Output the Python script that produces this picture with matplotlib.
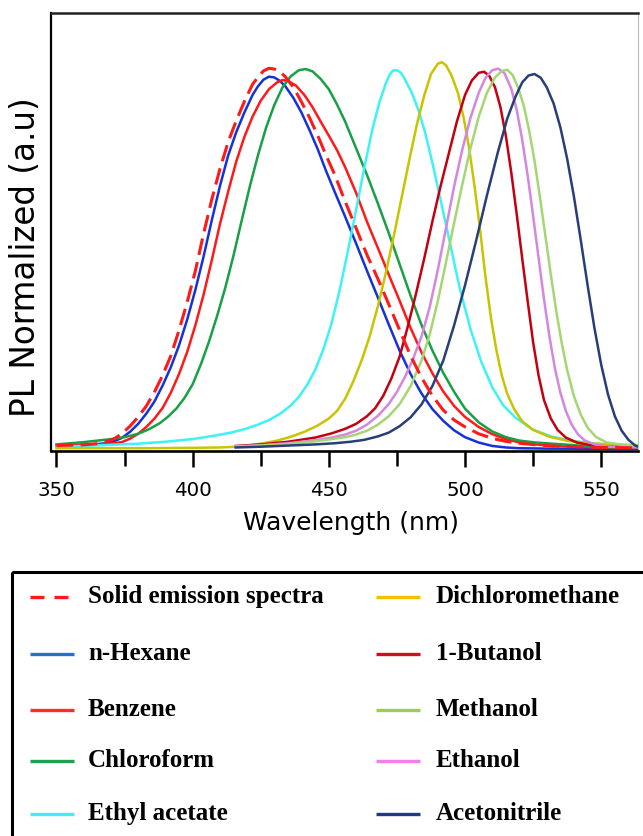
import matplotlib
matplotlib.use("Agg")
import matplotlib.pyplot as plt
from matplotlib.patches import Rectangle

# ---------------- data ----------------
solid_x = [350, 355, 360, 365, 368, 371, 374, 377, 380, 383, 386, 389, 392, 395, 398, 401, 404,
           407, 410, 413, 416, 419, 422, 424, 426, 428, 430, 432, 434, 437, 440, 443, 446, 449,
           452, 456, 460, 464, 468, 472, 476, 480, 484, 488, 492, 496, 500, 505, 510, 515, 520,
           526, 532, 540, 550, 564]
solid_y = [0.009, 0.010, 0.011, 0.014, 0.018, 0.026, 0.040, 0.060, 0.084, 0.113, 0.150, 0.194,
           0.245, 0.312, 0.386, 0.468, 0.565, 0.655, 0.735, 0.806, 0.862, 0.913, 0.958, 0.977,
           0.993, 1.000, 0.998, 0.991, 0.978, 0.950, 0.911, 0.869, 0.822, 0.771, 0.723, 0.650,
           0.580, 0.510, 0.447, 0.380, 0.312, 0.245, 0.188, 0.140, 0.102, 0.076, 0.058, 0.040,
           0.028, 0.020, 0.015, 0.011, 0.008, 0.006, 0.004, 0.003]

hexane_x = [350, 355, 360, 365, 368, 371, 374, 377, 380, 383, 386, 389, 392, 395, 398, 401, 404,
            407, 410, 413, 416, 419, 422, 424, 426, 428, 430, 432, 434, 437, 440, 443, 446, 449,
            452, 456, 460, 464, 468, 472, 476, 480, 484, 488, 492, 496, 500, 505, 510, 515, 520,
            530, 564]
hexane_y = [0.009, 0.010, 0.011, 0.013, 0.015, 0.020, 0.029, 0.045, 0.066, 0.093, 0.125, 0.167,
            0.215, 0.272, 0.340, 0.418, 0.505, 0.600, 0.690, 0.770, 0.832, 0.884, 0.930, 0.953,
            0.970, 0.978, 0.976, 0.967, 0.953, 0.922, 0.883, 0.836, 0.786, 0.730, 0.678, 0.610,
            0.540, 0.468, 0.398, 0.327, 0.258, 0.197, 0.146, 0.105, 0.074, 0.049, 0.031, 0.017,
            0.008, 0.004, 0.002, 0.001, 0.000]

benzene_x = [350, 355, 360, 365, 370, 374, 377, 380, 383, 386, 389, 392, 395, 398, 401, 404, 407,
             410, 413, 416, 419, 422, 425, 428, 431, 433, 435, 438, 441, 444, 447, 450, 453, 456,
             460, 464, 468, 472, 476, 480, 484, 488, 492, 496, 500, 505, 510, 515, 520, 526, 532,
             540, 550, 564]
benzene_y = [0.009, 0.010, 0.011, 0.012, 0.014, 0.018, 0.027, 0.040, 0.058, 0.080, 0.108, 0.148,
             0.197, 0.255, 0.325, 0.405, 0.495, 0.590, 0.675, 0.755, 0.820, 0.873, 0.915, 0.945,
             0.963, 0.969, 0.967, 0.954, 0.930, 0.898, 0.860, 0.823, 0.785, 0.740, 0.673, 0.597,
             0.528, 0.458, 0.389, 0.318, 0.254, 0.199, 0.151, 0.113, 0.084, 0.058, 0.039, 0.026,
             0.017, 0.012, 0.009, 0.006, 0.004, 0.003]

chloroform_x = [350, 355, 360, 365, 370, 375, 380, 384, 388, 391, 394, 397, 400, 403, 406, 409,
                412, 415, 418, 421, 424, 427, 430, 433, 436, 439, 441.5, 444, 447, 450, 453, 456,
                460, 464, 468, 472, 476, 480, 484, 488, 492, 496, 500, 505, 510, 515, 520, 526,
                532, 540, 548, 556, 564]
chloroform_y = [0.012, 0.015, 0.018, 0.022, 0.026, 0.031, 0.040, 0.052, 0.068, 0.085, 0.106,
                0.134, 0.170, 0.222, 0.282, 0.350, 0.424, 0.508, 0.600, 0.690, 0.772, 0.845,
                0.904, 0.950, 0.979, 0.995, 0.998, 0.992, 0.972, 0.945, 0.905, 0.860, 0.790,
                0.720, 0.645, 0.567, 0.485, 0.403, 0.326, 0.259, 0.200, 0.150, 0.106, 0.070,
                0.046, 0.031, 0.022, 0.017, 0.014, 0.010, 0.006, 0.004, 0.003]

ethyl_x = [350, 360, 370, 380, 390, 400, 408, 414, 419, 424, 428, 432, 436, 439, 442, 445, 448,
           451, 454, 457, 460, 463, 466, 468.5, 471, 472.3, 473.5, 475, 476.5, 478, 480.5, 483,
           485.5, 488, 491, 494.5, 498, 502, 506, 510, 514, 518.4, 524.6, 531.6, 538.8, 546,
           553, 564]
ethyl_y = [0.006, 0.008, 0.011, 0.014, 0.019, 0.026, 0.035, 0.043, 0.052, 0.064, 0.076, 0.092,
           0.114, 0.137, 0.168, 0.208, 0.262, 0.330, 0.418, 0.520, 0.628, 0.738, 0.840, 0.909,
           0.962, 0.983, 0.994, 0.995, 0.988, 0.970, 0.935, 0.888, 0.827, 0.752, 0.655, 0.540,
           0.424, 0.315, 0.228, 0.162, 0.115, 0.083, 0.052, 0.033, 0.022, 0.015, 0.011, 0.007]

dcm_x = [350, 380, 400, 410, 416, 421, 426, 431, 436, 441, 446, 450, 453, 456, 459, 462, 465,
         468, 471, 474, 477, 480, 482.5, 485, 487.5, 490, 491.5, 493, 495, 497.4, 499.5, 501.5,
         503.5, 505.5, 507.5, 509.5, 511.5, 513.5, 515.5, 518, 521, 525, 531, 538, 546, 553, 564]
dcm_y = [0.002, 0.002, 0.003, 0.004, 0.006, 0.010, 0.015, 0.022, 0.032, 0.045, 0.062, 0.080,
         0.100, 0.132, 0.178, 0.232, 0.296, 0.375, 0.465, 0.565, 0.670, 0.775, 0.858, 0.928,
         0.985, 1.012, 1.016, 1.008, 0.982, 0.935, 0.870, 0.790, 0.690, 0.578, 0.452, 0.345,
         0.260, 0.193, 0.145, 0.105, 0.073, 0.050, 0.032, 0.021, 0.015, 0.012, 0.010]

butanol_x = [415.8, 425, 435, 445, 451, 456, 460, 464, 467, 470, 473, 476, 479, 482, 485, 488,
             491, 494, 497, 500, 502.5, 505, 507, 509, 511, 513, 515, 517, 519, 521, 523, 525,
             527, 529, 531.5, 534, 537, 541, 546, 553, 564]
butanol_y = [0.008, 0.012, 0.019, 0.030, 0.041, 0.053, 0.066, 0.086, 0.107, 0.140, 0.186, 0.243,
             0.322, 0.408, 0.500, 0.597, 0.690, 0.775, 0.860, 0.930, 0.968, 0.988, 0.991, 0.979,
             0.950, 0.898, 0.822, 0.725, 0.615, 0.500, 0.388, 0.280, 0.193, 0.128, 0.080, 0.050,
             0.030, 0.017, 0.010, 0.006, 0.004]

methanol_x = [415.8, 425, 435, 445, 451, 456, 460, 464, 468, 472, 476, 480, 484, 487, 490, 493,
              496, 499, 502, 505, 508, 511, 513.5, 515.5, 517.5, 519.6, 521.5, 523.5, 525.5,
              527.5, 529.5, 531.5, 533.5, 535.5, 537.5, 540, 542.5, 545, 548, 552, 558, 564]
methanol_y = [0.006, 0.009, 0.013, 0.020, 0.026, 0.031, 0.038, 0.048, 0.064, 0.086, 0.118, 0.165,
              0.232, 0.300, 0.388, 0.490, 0.594, 0.695, 0.790, 0.872, 0.935, 0.976, 0.993, 0.996,
              0.982, 0.947, 0.903, 0.838, 0.757, 0.662, 0.560, 0.458, 0.362, 0.278, 0.207, 0.138,
              0.090, 0.056, 0.032, 0.017, 0.011, 0.009]

ethanol_x = [415.8, 425, 435, 445, 451, 456, 460, 464, 468, 472, 475, 478, 481, 484, 487, 490,
             493, 496, 499, 502, 505, 507.5, 510, 512.2, 514.5, 517, 519, 521, 523, 525, 527,
             529, 531, 533, 535, 537, 539, 541.5, 544, 548, 553, 564]
ethanol_y = [0.007, 0.010, 0.015, 0.023, 0.030, 0.038, 0.048, 0.064, 0.087, 0.118, 0.150, 0.190,
             0.238, 0.295, 0.372, 0.470, 0.580, 0.690, 0.787, 0.870, 0.935, 0.975, 0.995, 0.999,
             0.987, 0.946, 0.890, 0.812, 0.718, 0.612, 0.502, 0.393, 0.295, 0.212, 0.148, 0.100,
             0.066, 0.038, 0.022, 0.011, 0.006, 0.004]

acetonitrile_x = [415.8, 425, 435, 445, 452, 458, 463, 468, 472, 476, 480, 484, 488, 492, 496,
                  500, 504, 508, 512, 515.5, 518.5, 521, 523.3, 525.5, 527.8, 530, 532.5, 535,
                  537.5, 540, 542.5, 545, 547.5, 550, 552.5, 555, 557.5, 560, 562.5, 564]
acetonitrile_y = [0.004, 0.006, 0.009, 0.012, 0.015, 0.019, 0.024, 0.033, 0.043, 0.060, 0.083,
                  0.117, 0.165, 0.232, 0.325, 0.430, 0.545, 0.665, 0.778, 0.868, 0.925, 0.963,
                  0.981, 0.985, 0.975, 0.950, 0.908, 0.845, 0.762, 0.662, 0.548, 0.430, 0.318,
                  0.221, 0.143, 0.086, 0.048, 0.024, 0.009, 0.005]

labels = ["Solid emission spectra", "n-Hexane", "Benzene", "Chloroform", "Ethyl acetate",
          "Dichloromethane", "1-Butanol", "Methanol", "Ethanol", "Acetonitrile"]
line_colors = ["#ff1a1a", "#1432d8", "#ff1a1a", "#17a045", "#3ef2f5",
               "#c9c300", "#c40010", "#a6d673", "#d586de", "#283e78"]
legend_colors = ["#ff1a1a", "#2a6fcc", "#ff2a2a", "#1fa04f", "#40eef8",
                 "#f5c000", "#cc1020", "#9ccc50", "#f080f0", "#203a80"]
xs = [solid_x, hexane_x, benzene_x, chloroform_x, ethyl_x,
      dcm_x, butanol_x, methanol_x, ethanol_x, acetonitrile_x]
ys = [solid_y, hexane_y, benzene_y, chloroform_y, ethyl_y,
      dcm_y, butanol_y, methanol_y, ethanol_y, acetonitrile_y]
major_ticks = [350, 400, 450, 500, 550]
minor_ticks = [375, 425, 475, 525]

# ---------------- figure ----------------
W, H = 643, 836
fig = plt.figure(figsize=(W / 100, H / 100), dpi=100)
fig.patch.set_facecolor("white")

ax_l, ax_r, ax_t, ax_b = 51, 638, 12.7, 450.7
ax = fig.add_axes([ax_l / W, 1 - ax_b / H, (ax_r - ax_l) / W, (ax_b - ax_t) / H])

draw_order = [1, 2, 3, 4, 5, 6, 8, 7, 9, 0]
for i in draw_order:
    if i == 0:
        ax.plot(xs[i], ys[i], color=line_colors[i], lw=2.2, dashes=(5.5, 2.4), zorder=5)
    else:
        ax.plot(xs[i], ys[i], color=line_colors[i], lw=1.8, zorder=3,
                solid_joinstyle="round")

ax.set_xlim(348, 563.5)
ax.set_ylim(-0.0045, 1.146)
ax.set_yticks([])
ax.set_xticks(major_ticks)
ax.set_xticks(minor_ticks, minor=True)
ax.set_xticklabels([str(t) for t in major_ticks])
ax.tick_params(axis="x", which="both", direction="out", length=11.5, width=1.8,
               labelsize=14.3, pad=10, colors="black")
ax.tick_params(axis="x", which="minor", length=10.5)

ax.spines["left"].set_linewidth(1.6)
ax.spines["bottom"].set_linewidth(1.9)
ax.spines["top"].set_linewidth(1.8)
ax.spines["top"].set_color("#222222")
ax.spines["right"].set_linewidth(0.8)
ax.spines["right"].set_color("#bbbbbb")

ax.set_xlabel("Wavelength (nm)", fontsize=18)
ax.xaxis.set_label_coords((350.8 - ax_l) / (ax_r - ax_l), -(530 - ax_b) / (ax_b - ax_t))
ax.xaxis.label.set_va("baseline")

ax.set_ylabel("PL Normalized (a.u)", fontsize=23.5)
ax.yaxis.set_label_coords((42.5 - ax_l) / (ax_r - ax_l), (ax_b - 257.5) / (ax_b - ax_t))

# ---------------- legend (pixel layout) ----------------
lax = fig.add_axes([0, 0, 1, 1], zorder=-1)
lax.set_xlim(0, W)
lax.set_ylim(H, 0)
lax.axis("off")
lax.add_patch(Rectangle((11.7, 571.7), 700, 400, fill=False, lw=2.2, edgecolor="black",
                        clip_on=False))
row_y = [597.3, 654.0, 709.5, 760.7, 814.3]
col_handle = [(30, 74), (376, 420)]
col_text = [88, 436]
for i, lab in enumerate(labels):
    c, r = divmod(i, 5)
    x0, x1 = col_handle[c]
    y = row_y[r]
    if i == 0:
        lax.plot([x0, x1], [y, y], color=legend_colors[i], lw=2.4, dashes=(4.2, 3.0))
    else:
        lax.plot([x0, x1], [y, y], color=legend_colors[i], lw=2.4, solid_capstyle="butt")
    lax.text(col_text[c], y + 6, lab, fontsize=18, fontweight="bold",
             family=["Liberation Serif", "DejaVu Serif"], va="baseline", ha="left")

fig.savefig("out.png", dpi=100, facecolor="white")
